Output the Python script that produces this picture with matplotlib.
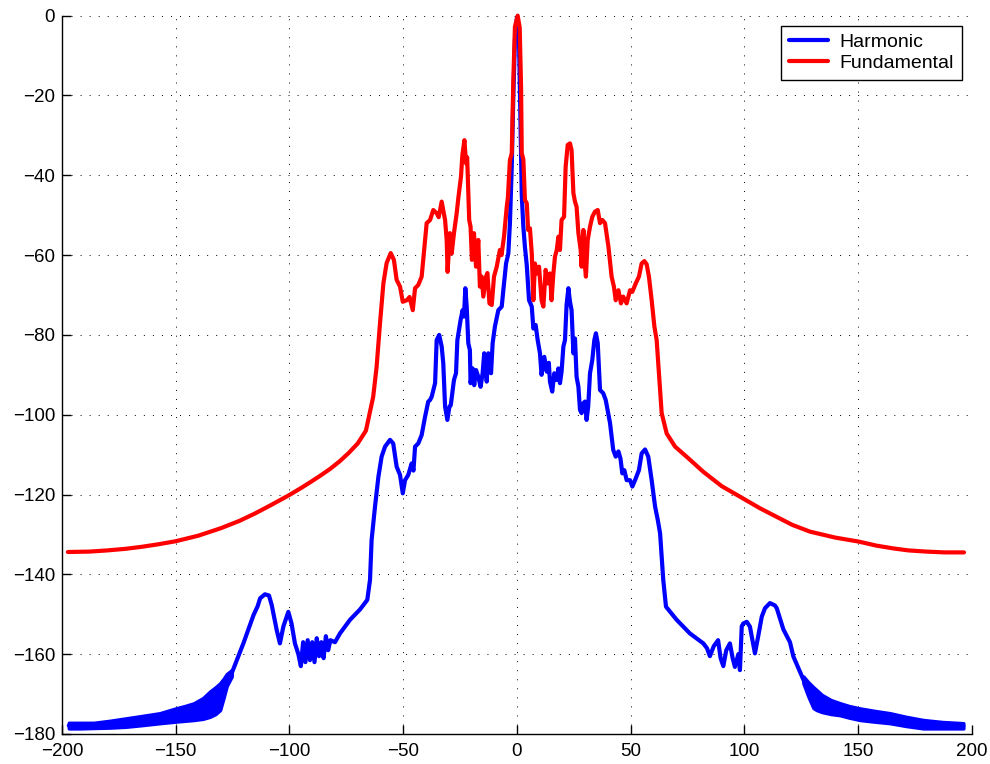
import numpy as np
import matplotlib
matplotlib.use('Agg')
import matplotlib.pyplot as plt

plt.rcParams['font.family'] = ['Liberation Sans', 'DejaVu Sans']

#=============================================================================#
# Fundamental (red)
fund_x = [-197.4, -188, -180, -172, -165, -158, -150, -140, -130, -122, -115,
          -108, -100, -95, -90, -86, -82.2, -78, -74, -70, -66.4,
          -63.2, -61.7, -60.2, -58.7, -57.3, -55.5, -54.1, -52.9, -51.4, -50.2,
          -48.4, -47.2, -45.8, -44.8, -43.4, -41.9, -40.4, -39.7, -38.2, -36.8,
          -35.3, -34.4, -33.1, -31.6, -30.9, -30.5, -29.5, -28.7, -27.7, -26.5,
          -25.8, -24.6, -24.0, -23.1, -22.4, -21.9, -21.0, -20.4, -19.8, -18.9,
          -18.0, -17.0, -16.3, -15.5, -14.8, -13.6, -13.0, -12.1, -11.1, -10.1,
          -8.9, -7.5, -6.8, -5.7, -4.5, -4.0, -3.1, -2.3, -1.6, -0.9, 0.3, 1.2,
          1.8, 2.1, 2.8, 3.5, 4.3, 4.9, 5.7, 6.5, 7.2, 7.9, 8.7, 9.7, 10.8, 11.6,
          12.6, 13.5, 14.5, 15.2, 16.0, 16.7, 17.5, 18.2, 18.9, 19.6, 20.7, 21.4,
          22.3, 23.3, 24.0, 24.8, 25.5, 26.2, 27.0, 28.0, 28.4, 29.2, 29.9, 30.3,
          31.1, 32.1, 33.1, 34.3, 35.5, 36.5, 37.5, 38.7, 40.2, 41.6, 42.6, 43.4,
          44.6, 45.7, 46.7, 48.2, 49.7, 50.7, 52.2, 53.6, 54.8, 56.0, 57.0, 58.0,
          59.2, 60.4, 61.4, 62.4, 63.6, 65.8, 69.5, 75.3, 81.9, 90, 99.4, 107,
          114.2, 121, 128.8, 140, 150.3, 158, 165.4, 172, 180, 188, 196.5]
fund_y = [-134.4, -134.3, -134.0, -133.6, -133.1, -132.5, -131.7, -130.3, -128.4,
          -126.6, -124.7, -122.6, -120.1, -118.4, -116.6, -115.1, -113.6, -111.7,
          -109.6, -107.2, -104.0, -95.5, -88.0, -77.0, -67.0, -62.0, -59.5, -61.2, -66.2,
          -67.9, -71.7, -71.3, -70.5, -73.8, -68.3, -67.5, -65.4, -56.2, -52.0,
          -51.2, -48.7, -49.5, -50.5, -46.6, -51.2, -56.2, -64.2, -54.5, -59.6,
          -54.5, -49.5, -45.8, -40.3, -34.9, -31.2, -37.0, -35.5, -51.2, -52.9,
          -61.2, -54.5, -62.9, -56.2, -67.9, -65.4, -70.4, -65.4, -64.5, -72.1,
          -72.5, -65.4, -62.9, -58.7, -60.0, -55.4, -47.9, -45.6, -36.2, -34.5,
          -16.1, -2.8, 0.0, -3.0, -18.0, -34.5, -36.0, -46.2, -47.0, -53.7, -53.3,
          -59.6, -71.3, -62.1, -64.6, -62.9, -71.3, -72.9, -63.7, -67.1, -64.6,
          -71.3, -64.6, -60.4, -58.7, -55.4, -58.7, -51.2, -50.4, -37.8, -32.4,
          -32.0, -33.7, -44.5, -46.6, -47.9, -54.5, -58.7, -62.9, -53.7, -62.9,
          -65.4, -56.2, -52.9, -50.4, -49.1, -48.7, -52.0, -51.2, -52.0, -57.9,
          -65.4, -67.9, -71.3, -68.8, -72.1, -70.4, -72.1, -68.8, -69.2, -67.1,
          -65.4, -62.1, -61.5, -62.3, -65.4, -71.3, -77.9, -81.3, -89.6, -99.6,
          -104.7, -108.0, -110.9, -114.3, -117.9, -121.0, -123.5, -125.6, -127.6,
          -129.3, -130.8, -131.8, -132.8, -133.5, -134.0, -134.3, -134.5, -134.5]

# Harmonic (blue)
harm_x = [-197, -186, -172, -157, -150, -142, -135, -130, -127.6, -125.4, -120.2,
          -118, -115.8, -114, -112.9, -110.8, -109, -107.8, -105.6, -104.2, -102.7,
          -100.5, -99.1, -97.6, -96.1, -95, -94, -93, -92, -91, -90, -89, -88, -87, -86,
          -85, -84, -83, -82, -80, -77.8, -73.4, -69, -65.8, -64.6, -63.9, -62.4,
          -60.9, -59.5, -58, -55.8, -54.4, -52.9, -51.4, -50.2, -49.2, -47.8,
          -46.3, -45.5, -44.8, -43.4, -41.9, -40.4, -39, -38.2, -37.5, -36,
          -35.3, -34.2, -33.1, -32.4, -31.6, -30.6, -29.7, -29.1, -27.7, -26.8,
          -26.2, -24.8, -23.9, -23.3, -22.7, -22.1, -21.4, -20.7, -20.4, -19.5,
          -18.8, -18, -17, -16, -15.1, -14.4, -13.3, -12.6, -11.4, -10.7, -9.7,
          -8.2, -6.7, -6, -4.8, -3.8, -3.1, -2.3, -1.6, -0.9, 0, 0.9, 1.5, 2.1,
          2.8, 3.5, 4.3, 5.3, 6.5, 7.2, 8.2, 9.1, 10.1, 10.8, 12, 13.1, 14, 14.5,
          15.5, 16.4, 17.5, 18.2, 18.9, 19.6, 20.4, 21.1, 21.8, 22.6, 23.3, 24,
          24.8, 25.5, 26.2, 27, 27.7, 28.4, 29.2, 29.9, 30.6, 31.3, 32.1, 33.1,
          34, 34.7, 35.5, 36.5, 37.9, 39, 40.9, 41.6, 42.3, 43.4, 44.6, 45.5,
          46.3, 47.2, 48.2, 49.7, 50.7, 51.9, 53.6, 54.8, 56.3, 57.7, 59.2, 60.7,
          61.9, 62.9, 64.3, 65.5, 70.2, 76, 81.9, 83.5, 84.8, 86.5, 88.4, 89.5,
          90.7, 92, 93.6, 94.8, 95.8, 97.3, 98, 98.8, 99.5, 101, 102.4, 103.2,
          104.6, 106, 107.6, 109, 111.2, 113.4, 114.2, 117.1, 120, 121.5, 125.9,
          128, 130.3, 134, 142, 150.8, 164, 178.6, 196.2]
harm_y = [-177.9, -177.8, -177.1, -176.0, -175.2, -174.4, -172.5, -170.6, -166.0,
          -164.8, -157.2, -153.7, -150.2, -148.0, -146.0, -145.0, -145.3, -147.7,
          -154.0, -157.3, -153.1, -149.4, -152.3, -157.3, -160.0, -163.0, -157.0,
          -162.0, -156.5, -161.5, -157.0, -162.0, -156.0, -160.5, -157.0, -161.0,
          -155.5, -159.0, -156.5, -157.0, -154.8, -151.4, -148.8, -146.4, -141.4,
          -131.4, -123.0, -115.5, -110.5, -108.0, -106.3, -107.2, -113.0, -115.1,
          -119.7, -116.4, -115.1, -112.2, -114.0, -108.0, -107.2, -105.1, -100.5,
          -96.7, -96.3, -95.5, -92.1, -81.3, -80.0, -82.9, -87.1, -98.0, -101.3,
          -98.0, -97.6, -91.3, -89.6, -81.3, -76.3, -73.8, -75.4, -68.3, -72.9,
          -82.1, -83.8, -92.1, -88.4, -92.6, -88.8, -90.5, -93.0, -89.6, -84.6,
          -91.7, -84.6, -89.6, -82.1, -77.9, -73.8, -72.9, -68.8, -62.1, -59.6,
          -52.0, -38.0, -20.0, -6.0, -0.5, -6.0, -25.0, -45.0, -52.9, -58.0,
          -62.5, -71.3, -72.9, -78.4, -77.5, -81.3, -84.6, -90.0, -85.5, -89.2,
          -87.0, -91.7, -94.2, -89.6, -91.3, -88.4, -92.1, -89.2, -82.9, -81.3,
          -72.5, -68.3, -71.7, -73.8, -84.6, -80.9, -90.5, -93.0, -98.8, -99.6,
          -97.1, -96.7, -101.3, -98.0, -89.6, -86.3, -81.3, -79.6, -82.1, -93.8,
          -94.6, -96.3, -102.1, -105.5, -108.8, -110.5, -109.2, -111.0, -114.7,
          -113.9, -116.4, -116.4, -118.0, -116.4, -113.9, -109.7, -108.7, -110.5,
          -116.4, -123.0, -126.4, -129.7, -141.4, -148.1, -151.4, -154.8, -157.3,
          -158.5, -160.5, -158.0, -156.5, -161.0, -163.0, -159.0, -157.3, -161.0,
          -163.2, -160.0, -164.0, -153.0, -152.3, -151.9, -153.1, -155.6, -159.8,
          -155.6, -150.6, -148.5, -147.2, -147.8, -148.5, -153.8, -157.0, -160.6,
          -166.4, -168.8, -171.0, -172.4, -173.8, -175.0, -176.0, -177.5, -178.0]

# spread of the fast ripple in the harmonic tails
band_left_x = [-197, -192, -186, -179, -172, -165, -157, -150, -146, -142, -138,
               -135, -132.5, -130.5, -129, -127.6, -125.4]
band_left_lo = [-178.6, -178.6, -178.5, -178.4, -178.2, -177.8, -177.3, -176.9,
                -176.7, -176.5, -176.2, -175.7, -175.0, -174.0, -171.0, -168.0, -165.6]
band_left_hi = [-177.2, -177.2, -177.2, -176.7, -176.1, -175.5, -174.8, -173.6,
                -173.0, -172.3, -171.0, -169.4, -168.3, -167.3, -166.2, -165.0, -164.0]
band_right_x = [125.9, 128, 130.3, 131.7, 134, 138, 142, 146, 150.8, 157, 164,
                171, 178.6, 187, 196.2]
band_right_lo = [-167.3, -170.5, -173.5, -174.0, -174.5, -175.0, -175.3, -175.9,
                 -176.5, -176.9, -177.3, -178.0, -178.6, -178.6, -178.6]
band_right_hi = [-165.6, -167.0, -168.3, -169.0, -170.2, -171.5, -172.3, -173.0,
                 -173.6, -174.2, -174.8, -175.7, -176.5, -177.0, -177.3]

x_ticks = [-200, -150, -100, -50, 0, 50, 100, 150, 200]
y_ticks = [0, -20, -40, -60, -80, -100, -120, -140, -160, -180]

#=============================================================================#
fig = plt.figure(figsize=(9.9, 7.64), dpi=100)
ax = fig.add_axes([0.0626, 0.0393, 0.9192, 0.9402])

lw = 3.0
ax.fill_between(band_left_x, band_left_lo, band_left_hi, color='#0000ff',
                linewidth=2.5, edgecolor='#0000ff', zorder=2)
ax.fill_between(band_right_x, band_right_lo, band_right_hi, color='#0000ff',
                linewidth=2.5, edgecolor='#0000ff', zorder=2)
ax.plot(harm_x, harm_y, color='#0000ff', lw=lw, label='Harmonic',
        solid_joinstyle='round', solid_capstyle='round', zorder=3, clip_on=False)
ax.plot(fund_x, fund_y, color='#ff0000', lw=lw, label='Fundamental',
        solid_joinstyle='round', solid_capstyle='round', zorder=4, clip_on=False)

ax.set_xlim(-200, 200)
ax.set_ylim(-180, 0)
ax.set_xticks(x_ticks)
ax.set_yticks(y_ticks)
ax.set_xticklabels([str(v).replace('-', '\u2212') for v in x_ticks])
ax.set_yticklabels([str(v).replace('-', '\u2212') for v in y_ticks])

ax.spines['top'].set_visible(False)
ax.spines['right'].set_visible(False)
for s in ['left', 'bottom']:
    ax.spines[s].set_linewidth(1.0)
    ax.spines[s].set_zorder(5)
ax.tick_params(direction='in', length=6.5, width=1.0, labelsize=13.5)
ax.tick_params(axis='x', pad=6.5)
ax.tick_params(axis='y', pad=5)

ax.grid(True, color='black', linewidth=0.7, linestyle=(0, (1, 8.3)))
ax.set_axisbelow(True)

leg = ax.legend(loc='upper right', bbox_to_anchor=(0.989, 0.986),
                fontsize=14, frameon=True, fancybox=False, handlelength=2.0,
                handletextpad=0.6, borderpad=0.4, labelspacing=0.18,
                borderaxespad=0.0)
leg.get_frame().set_edgecolor('black')
leg.get_frame().set_linewidth(1.0)
leg.get_frame().set_alpha(1.0)

fig.savefig('out.png', dpi=100)
